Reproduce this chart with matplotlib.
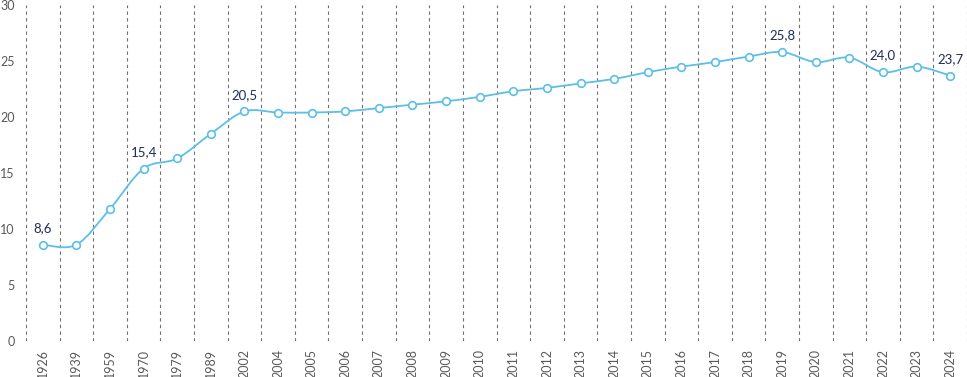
import numpy as np
import matplotlib.pyplot as plt
from matplotlib.path import Path
from matplotlib.patches import PathPatch

plt.rcParams['font.family'] = ['Lato', 'DejaVu Sans']

# ---------------- data
years = ['1926', '1939', '1959', '1970', '1979', '1989', '2002', '2004', '2005',
         '2006', '2007', '2008', '2009', '2010', '2011', '2012', '2013', '2014',
         '2015', '2016', '2017', '2018', '2019', '2020', '2021', '2022', '2023',
         '2024']
values = [8.6, 8.6, 11.8, 15.4, 16.3, 18.5, 20.5, 20.4, 20.4,
          20.5, 20.8, 21.1, 21.4, 21.8, 22.3, 22.6, 23.0, 23.4,
          24.0, 24.5, 24.9, 25.4, 25.8, 24.9, 25.3, 24.0, 24.5,
          23.7]
labelled = ['1926', '1970', '2002', '2019', '2022', '2024']
yticks = [0, 5, 10, 15, 20, 25, 30]

line_col = '#5bbfe6'
text_col = '#1f2d5a'
grey = '#595959'

x = np.arange(len(years))
y = np.array(values)

fig = plt.figure(figsize=(9.67, 3.77), dpi=100)
ax = fig.add_axes([26/967, 1-341/377, 1-26/967, (341-5)/377])

#---------------smoothed line (excel style, catmull-rom -> bezier)
verts = [(x[0], y[0])]
codes = [Path.MOVETO]
n = len(x)
for i in range(n-1):
    p0 = np.array([x[max(i-1, 0)], y[max(i-1, 0)]])
    p1 = np.array([x[i], y[i]])
    p2 = np.array([x[i+1], y[i+1]])
    p3 = np.array([x[min(i+2, n-1)], y[min(i+2, n-1)]])
    c1 = p1 + (p2-p0)/6
    c2 = p2 - (p3-p1)/6
    verts += [tuple(c1), tuple(c2), tuple(p2)]
    codes += [Path.CURVE4]*3
ax.add_patch(PathPatch(Path(verts, codes), fc='none', ec=line_col, lw=1.3, zorder=3))
ax.plot(x, y, ls='none', marker='o', ms=5.5, mfc='white', mec=line_col, mew=1.2, zorder=4)

for i, yr in enumerate(years):
    if yr in labelled:
        ax.annotate(f'{values[i]:.1f}'.replace('.', ','), (x[i], y[i]),
                    xytext=(0, 12), textcoords='offset points',
                    ha='center', va='center', fontsize=9.5, color=text_col)

ax.set_xlim(-0.5, -0.5 + 941/33.78)
ax.set_ylim(0, 30)
ax.set_xticks(x)
ax.set_xticklabels(years, rotation=90, fontsize=9, color=grey)
ax.set_xticks(np.arange(-0.5, len(years), 1), minor=True)
ax.set_yticks(yticks)
ax.set_yticklabels([str(t) for t in yticks], fontsize=9, color=grey)
ax.tick_params(which='both', length=0)
ax.tick_params(axis='x', pad=6)
ax.tick_params(axis='y', pad=8)
ax.grid(which='minor', axis='x', ls=(0, (3, 3)), color='#6f6f6f', lw=0.8)
for s in ax.spines.values():
    s.set_visible(False)

plt.savefig('out.png', dpi=100)
